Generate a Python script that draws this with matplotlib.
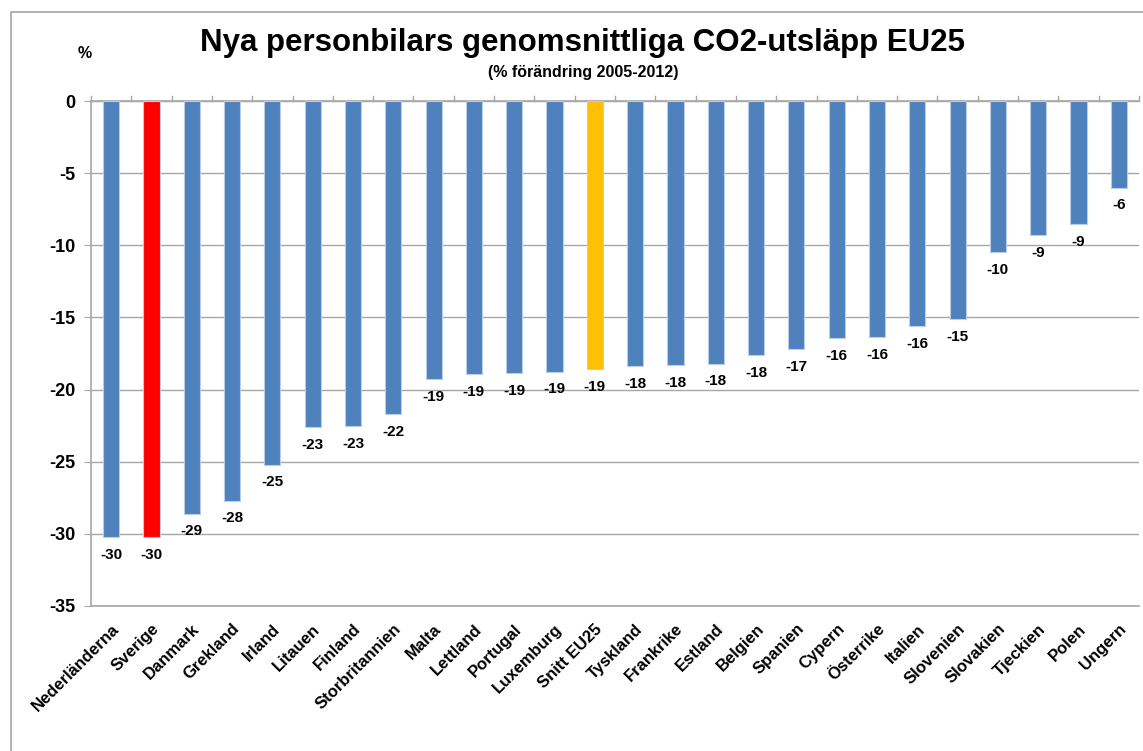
import numpy as np
import matplotlib.pyplot as plt
from matplotlib.patches import Rectangle

countries = ['Nederländerna', 'Sverige', 'Danmark', 'Grekland', 'Irland', 'Litauen',
             'Finland', 'Storbritannien', 'Malta', 'Lettland', 'Portugal', 'Luxemburg',
             'Snitt EU25', 'Tyskland', 'Frankrike', 'Estland', 'Belgien', 'Spanien',
             'Cypern', 'Österrike', 'Italien', 'Slovenien', 'Slovakien', 'Tjeckien',
             'Polen', 'Ungern']
change = [-30.2, -30.2, -28.6, -27.7, -25.2, -22.6,
          -22.55, -21.7, -19.3, -18.9, -18.85, -18.75,
          -18.6, -18.4, -18.3, -18.2, -17.6, -17.2,
          -16.45, -16.35, -15.6, -15.1, -10.45, -9.3,
          -8.55, -6.0]

blue = '#4F81BD'
colors = [blue] * len(countries)
colors[countries.index('Sverige')] = '#FF0000'
colors[countries.index('Snitt EU25')] = '#FFC000'

plt.rcParams['font.family'] = ['Liberation Sans', 'DejaVu Sans']
plt.rcParams['font.weight'] = 'bold'

fig = plt.figure(figsize=(11.43, 7.51), dpi=100)
# chart frame
fig.patches.append(Rectangle((11 / 1143, -0.1), 1.2, 1 - 12 / 751 + 0.1,
                             transform=fig.transFigure, fill=False,
                             edgecolor='#A6A6A6', linewidth=1.2))

ax = fig.add_axes([91 / 1143, 1 - 606 / 751, (1139 - 91) / 1143, (606 - 101) / 751])
x = np.arange(len(countries))
ax.bar(x, change, width=0.4, color=colors, edgecolor='#B9CDE5', linewidth=0.8, zorder=3)

for xi, v in zip(x, change):
    ax.text(xi, v - 0.75, f'{round(v):d}', ha='center', va='top', fontsize=11,
            fontweight='bold', zorder=4)

ax.set_xlim(-0.5, len(countries) - 0.5)
ax.set_ylim(-35, 0)
ax.set_yticks(np.arange(-35, 1, 5))
ax.set_yticklabels([str(t) for t in range(-35, 1, 5)], fontsize=13, fontweight='bold')
ax.yaxis.grid(True, color='#A6A6A6', linewidth=1.0, zorder=0)
ax.tick_params(axis='y', length=5, color='#A6A6A6', pad=6)

ax.set_xticks(x)
ax.set_xticklabels(countries, rotation=45, ha='right', rotation_mode='anchor',
                   fontsize=12, fontweight='bold')
ax.tick_params(axis='x', length=0, pad=11)
# category boundary ticks on the zero line
for b in np.arange(-0.5, len(countries), 1.0):
    ax.plot([b, b], [0, 0.35], color='#A6A6A6', linewidth=1.0, clip_on=False, zorder=2)

for side in ['top', 'left', 'bottom']:
    ax.spines[side].set_color('#A6A6A6')
    ax.spines[side].set_linewidth(1.2)
ax.spines['right'].set_visible(False)

fig.text(583 / 1143, 1 - 43 / 751, 'Nya personbilars genomsnittliga CO2-utsläpp EU25',
         ha='center', va='center', fontsize=22.5, fontweight='bold')
fig.text(583 / 1143, 1 - 72 / 751, '(% förändring 2005-2012)', ha='center', va='center',
         fontsize=11.5, fontweight='bold')
fig.text(85 / 1143, 1 - 53 / 751, '%', ha='center', va='center', fontsize=11.5, fontweight='bold')

fig.savefig('out.png', dpi=100)
